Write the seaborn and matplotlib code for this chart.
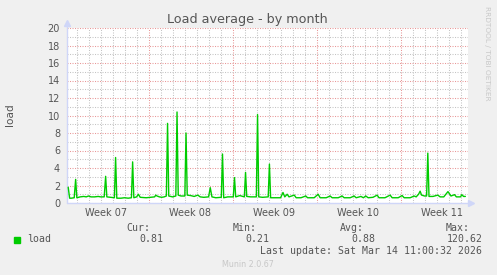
import matplotlib
matplotlib.use("Agg")
import matplotlib.pyplot as plt
import matplotlib.patches as mpatches
from matplotlib.ticker import MultipleLocator, FixedLocator, NullFormatter
import pandas as pd
import seaborn as sns

# ---- data (days since Mon Feb 9 2026 00:00) ----
days = [0.3, 0.42, 0.55, 0.8, 0.92, 1.02, 1.3, 1.6, 1.8, 2.0, 2.2, 2.5, 2.8, 3.0, 3.3,
        3.42, 3.52, 3.8, 4.15, 4.25, 4.35, 4.7, 5.0, 5.3, 5.57, 5.67, 5.77, 6.0, 6.15,
        6.3, 6.8, 7.2, 7.5, 7.6, 7.7, 7.9, 8.1, 8.3, 8.48, 8.58, 8.68, 9.0, 9.27, 9.37,
        9.47, 9.7, 10.02, 10.12, 10.22, 10.5, 10.8, 11.1, 11.3, 11.6, 12.0, 12.14, 12.28,
        12.6, 13.06, 13.16, 13.26, 13.6, 14.06, 14.16, 14.26, 14.6, 14.98, 15.08, 15.18,
        15.5, 15.98, 16.08, 16.18, 16.5, 16.97, 17.07, 17.17, 17.6, 18.0, 18.2, 18.35,
        18.55, 18.7, 19.14, 19.3, 19.7, 20.1, 20.25, 20.8, 21.13, 21.3, 21.8, 22.13,
        22.3, 22.8, 23.13, 23.3, 23.8, 24.13, 24.3, 24.7, 24.9, 25.1, 25.3, 25.7, 26.05,
        26.2, 26.7, 27.13, 27.3, 27.8, 28.13, 28.3, 28.8, 29.13, 29.3, 29.5, 29.63,
        29.75, 30.0, 30.17, 30.27, 30.37, 30.7, 31.1, 31.3, 31.6, 31.95, 32.2, 32.5,
        32.65, 33.0, 33.1, 33.25, 33.4]
load = [1.8, 0.55, 0.55, 0.6, 2.7, 0.6, 0.7, 0.75, 0.7, 0.8, 0.7, 0.7, 0.75, 0.7, 0.7,
        3.05, 0.7, 0.65, 0.6, 5.2, 0.55, 0.55, 0.6, 0.55, 0.6, 4.7, 0.6, 0.7, 1.0,
        0.65, 0.6, 0.65, 0.7, 0.9, 0.8, 0.7, 0.65, 0.7, 0.8, 9.1, 0.8, 0.7, 0.8, 10.4,
        0.9, 0.8, 0.8, 8.0, 0.9, 0.85, 0.75, 0.9, 0.7, 0.65, 0.7, 1.75, 0.7,
        0.6, 0.65, 5.6, 0.6, 0.7, 0.7, 2.9, 0.7, 0.85, 0.7, 3.5, 0.75,
        0.7, 0.7, 10.1, 0.7, 0.65, 0.7, 4.45, 0.6, 0.6, 0.6, 1.2, 0.7,
        1.0, 0.7, 0.9, 0.6, 0.6, 0.8, 0.6, 0.6, 1.0, 0.6, 0.6, 0.8,
        0.6, 0.6, 0.8, 0.6, 0.6, 0.8, 0.6, 0.75, 0.6, 0.8, 0.6, 0.65, 0.9,
        0.6, 0.6, 0.9, 0.6, 0.6, 0.85, 0.6, 0.6, 0.8, 0.7, 1.0, 1.35,
        0.9, 0.8, 0.8, 5.7, 0.75, 0.75, 0.9, 0.7, 0.7, 1.3, 0.8, 0.95,
        0.7, 0.7, 0.95, 0.75, 0.75]

week_bounds = [7, 14, 21, 28]
week_centers = [3.48, 10.48, 17.48, 24.48, 31.46]
week_labels = ["Week 07", "Week 08", "Week 09", "Week 10", "Week 11"]
y_major = list(range(0, 21, 2))
stat_names = ["Cur:", "Min:", "Avg:", "Max:"]
stat_values = ["0.81", "0.21", "0.88", "120.62"]
series_name = "load"
title = "Load average - by month"
last_update = "Last update: Sat Mar 14 11:00:32 2026"

sns.set_style("white")
plt.rcParams["font.family"] = ["DejaVu Sans"]

W, H = 497, 275
FONT = "#555555"
MINOR = "#C4C4C4"
MAJOR = "#E89898"
AXIS = "#CFD6F8"

fig = plt.figure(figsize=(W / 100, H / 100), dpi=100, facecolor="#F0F0F0")
L, R, T, B = 67, 468, 28, 203
ax = fig.add_axes([L / W, 1 - B / H, (R - L) / W, (B - T) / H])
ax.set_facecolor("white")

df = pd.DataFrame({"day": days, "load": load})
sns.lineplot(data=df, x="day", y="load", ax=ax, color="#00CC00", lw=1.0, zorder=7)

ax.set_xlim(0.2, 33.62)
ax.set_ylim(0, 20)
ax.set_xlabel("")
ax.set_ylabel("")

ax.yaxis.set_major_locator(FixedLocator(y_major))
ax.yaxis.set_minor_locator(MultipleLocator(1))
ax.xaxis.set_major_locator(FixedLocator(week_bounds))
ax.xaxis.set_minor_locator(MultipleLocator(1))
ax.xaxis.set_major_formatter(NullFormatter())
ax.set_yticklabels([str(v) for v in y_major])

ax.grid(which="major", color=MAJOR, lw=0.75, linestyle=(0, (1, 1.4)))
ax.grid(which="minor", color=MINOR, lw=0.75, linestyle=(0, (1, 1.4)))
ax.set_axisbelow(True)

ax.tick_params(axis="y", which="major", length=2.5, width=0.7, color="#999999",
               labelsize=7, labelcolor=FONT, pad=2.5)
ax.tick_params(axis="y", which="minor", length=2.5, width=0.7, color=MINOR)
ax.tick_params(axis="x", which="major", length=2.5, width=0.7, color=MAJOR)
ax.tick_params(axis="x", which="minor", length=2.5, width=0.7, color=MINOR)

for s in ["top", "right", "left", "bottom"]:
    ax.spines[s].set_visible(False)

# axis lines with arrows
ax.plot([0, 0], [0, 1.025], transform=ax.transAxes, color=AXIS, lw=1, clip_on=False, zorder=6)
ax.plot([0], [1.03], transform=ax.transAxes, marker="^", ms=4.5, color=AXIS, clip_on=False, zorder=6)
ax.plot([0, 1.0], [0, 0], transform=ax.transAxes, color=AXIS, lw=1, clip_on=False, zorder=6)
ax.plot([1.0075], [0], transform=ax.transAxes, marker=">", ms=4.5, color=AXIS, clip_on=False, zorder=6)

xt = ax.get_xaxis_transform()
for c, lab in zip(week_centers, week_labels):
    ax.text(c, -9.5 / (B - T), lab, transform=xt, ha="center", va="center",
            fontsize=7, color=FONT)

fig.text(247.5 / W, 1 - 19 / H, title, ha="center", va="center", fontsize=9.2, color=FONT)
fig.text(10 / W, 1 - 115 / H, "load", rotation=90, ha="center", va="center",
         fontsize=7.6, color=FONT)
fig.text(487 / W, 1 - 53 / H, "RRDTOOL / TOBI OETIKER", rotation=270, ha="center",
         va="center", fontsize=5.3, color="#C8C8C8")
fig.text(248 / W, 1 - 264.5 / H, "Munin 2.0.67", ha="center", va="center",
         fontsize=5.8, color="#C8C8C8")

mono = dict(family="DejaVu Sans Mono", fontsize=7.1, color=FONT, va="center")
fig.patches.append(mpatches.Rectangle((14 / W, 1 - 242.5 / H), 6 / W, 6 / H,
                                      transform=fig.transFigure, color="#00CC00"))
fig.text(27 / W, 1 - 239.5 / H, series_name, ha="left", **mono)
name_right = [150.5, 257, 363.5, 470]
val_right = [163, 269.5, 375.7, 482.3]
for n, v, xn, xv in zip(stat_names, stat_values, name_right, val_right):
    fig.text(xn / W, 1 - 227.7 / H, n, ha="right", **mono)
    fig.text(xv / W, 1 - 239.5 / H, v, ha="right", **mono)
fig.text(482.3 / W, 1 - 251 / H, last_update, ha="right", **mono)

fig.savefig("out.png", dpi=100, facecolor=fig.get_facecolor())
